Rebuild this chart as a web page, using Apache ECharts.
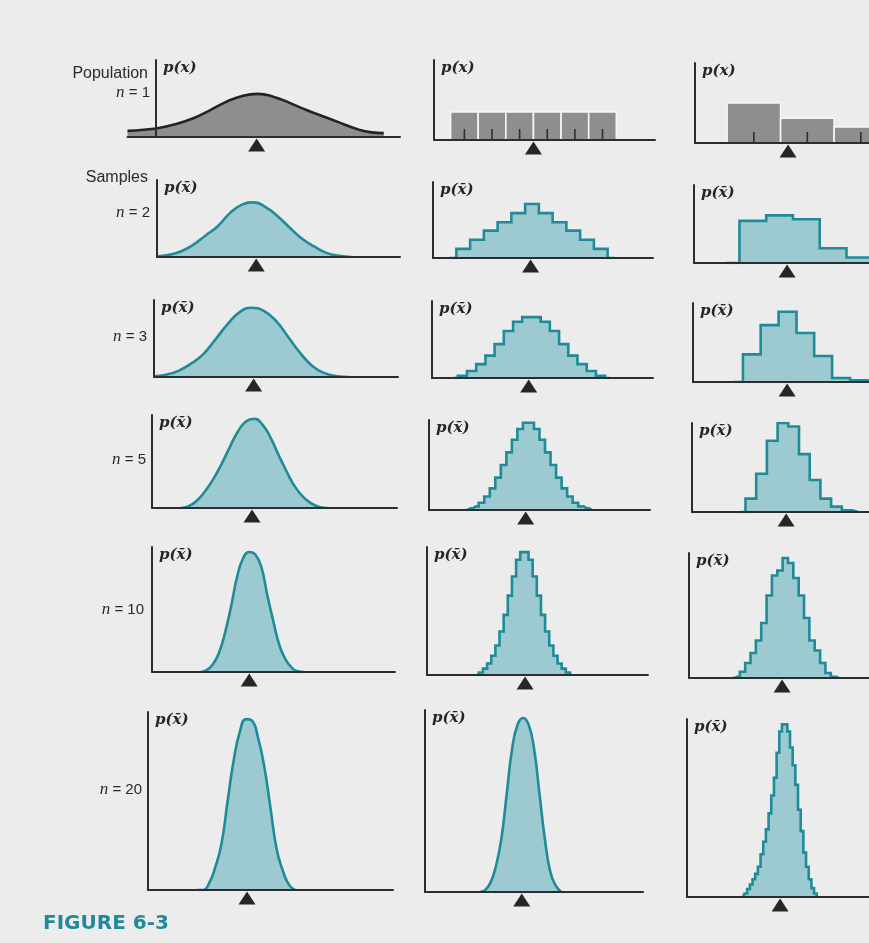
<!DOCTYPE html>
<html>
<head>
<meta charset="utf-8">
<script src="https://cdn.jsdelivr.net/npm/echarts@6.0.0/dist/echarts.min.js"></script>
<style>
  html, body { margin: 0; padding: 0; background: #ececec; }
  #chart { width: 869px; height: 943px; }
</style>
</head>
<body>
<div id="chart"></div>
<script>
// ---------- Sample sizes (rows) ----------
const rowLabels = ['n = 1', 'n = 2', 'n = 3', 'n = 5', 'n = 10', 'n = 20'];

// ---------- Column A: bell-shaped population (x on a 0–120 scale) ----------
// heights are relative to each panel's y-axis length
const bellX1 = [-14, -6, 2, 10, 18, 26, 34, 42, 50, 58, 66, 74, 82, 90, 98, 106, 112];
const bellY1 = [0.08, 0.095, 0.12, 0.17, 0.24, 0.34, 0.45, 0.53, 0.56, 0.52, 0.44, 0.35, 0.27, 0.19, 0.11, 0.06, 0.05];
const bellX2 = [0, 6, 12, 18, 24, 30, 36, 42, 48, 54, 60, 66, 72, 78, 84, 90, 96];
const bellY2 = [0.01, 0.03, 0.075, 0.16, 0.28, 0.40, 0.57, 0.68, 0.71, 0.64, 0.52, 0.37, 0.23, 0.13, 0.05, 0.015, 0];
const bellX3 = [0, 6, 12, 18, 24, 30, 36, 42, 48, 54, 60, 66, 72, 78, 84, 90, 96];
const bellY3 = [0.01, 0.03, 0.08, 0.17, 0.29, 0.48, 0.68, 0.84, 0.90, 0.86, 0.73, 0.52, 0.31, 0.14, 0.05, 0.01, 0];
const bellX5 = [14, 18, 22, 26, 30, 34, 38, 42, 46, 50, 54, 58, 62, 66, 70, 74, 78, 82, 86];
const bellY5 = [0, 0.02, 0.08, 0.18, 0.31, 0.47, 0.65, 0.82, 0.93, 0.96, 0.90, 0.76, 0.57, 0.39, 0.23, 0.12, 0.05, 0.01, 0];
const bellX10 = [24, 27, 30, 33, 36, 39, 42, 45, 48, 51, 54, 57, 60, 63, 66, 69, 72, 75];
const bellY10 = [0, 0.015, 0.06, 0.15, 0.31, 0.52, 0.76, 0.91, 0.96, 0.94, 0.84, 0.61, 0.40, 0.21, 0.10, 0.035, 0.005, 0];
const bellX20 = [24, 27, 30, 33, 36, 39, 42, 45, 48, 51, 54, 57, 60, 63, 66, 69, 72];
const bellY20 = [0, 0.0, 0.04, 0.13, 0.26, 0.50, 0.73, 0.89, 0.96, 0.95, 0.85, 0.69, 0.46, 0.23, 0.11, 0.03, 0];
const bellMeans = [49.5, 49, 49, 49, 48, 48.5];

// ---------- Column B: uniform population on 1..6 ----------
const uniPopX = [1, 2, 3, 4, 5, 6];
const uniPopY = [0.35, 0.35, 0.35, 0.35, 0.35, 0.35];
const uniX2 = [1, 1.5, 2, 2.5, 3, 3.5, 4, 4.5, 5, 5.5, 6];
const uniY2 = [0.12, 0.24, 0.36, 0.47, 0.59, 0.71, 0.59, 0.47, 0.36, 0.24, 0.12];
const uniX3 = [1, 1.33, 1.67, 2, 2.33, 2.67, 3, 3.33, 3.67, 4, 4.33, 4.67, 5, 5.33, 5.67, 6];
const uniY3 = [0.03, 0.09, 0.18, 0.29, 0.44, 0.61, 0.73, 0.79, 0.79, 0.73, 0.61, 0.44, 0.29, 0.18, 0.09, 0.03];
const uniX5 = [1.4, 1.6, 1.8, 2, 2.2, 2.4, 2.6, 2.8, 3, 3.2, 3.4, 3.6, 3.8, 4, 4.2, 4.4, 4.6, 4.8, 5, 5.2, 5.4, 5.6];
const uniY5 = [0.02, 0.04, 0.08, 0.15, 0.24, 0.36, 0.50, 0.64, 0.78, 0.90, 0.97, 0.97, 0.90, 0.78, 0.64, 0.50, 0.36, 0.24, 0.15, 0.08, 0.04, 0.02];
const uniX10 = [1.85, 2.0, 2.15, 2.3, 2.45, 2.6, 2.75, 2.9, 3.05, 3.2, 3.35, 3.5, 3.65, 3.8, 3.95, 4.1, 4.25, 4.4, 4.55, 4.7, 4.85, 5.0];
const uniY10 = [0.02, 0.05, 0.09, 0.15, 0.23, 0.34, 0.47, 0.62, 0.77, 0.90, 0.96, 0.96, 0.90, 0.77, 0.62, 0.47, 0.34, 0.23, 0.15, 0.09, 0.05, 0.02];
const uniX20 = [1.9, 2.1, 2.3, 2.5, 2.7, 2.9, 3.1, 3.3, 3.5, 3.7, 3.9, 4.1, 4.3, 4.5, 4.7, 4.9];
const uniY20 = [0, 0.01, 0.05, 0.14, 0.29, 0.54, 0.79, 0.92, 0.956, 0.92, 0.79, 0.54, 0.29, 0.11, 0.035, 0];
const uniMeans = [3.5, 3.45, 3.4, 3.4, 3.45, 3.45];

// ---------- Column C: skewed population on 0, 1, 2 ----------
const skewPopX = [0, 1, 2];
const skewPopY = [0.50, 0.31, 0.20];
const skewX2 = [0, 0.5, 1, 1.5, 2];
const skewY2 = [0.54, 0.61, 0.56, 0.19, 0.07];
const skewX3 = [0, 0.33, 0.67, 1, 1.33, 1.67, 2];
const skewY3 = [0.35, 0.72, 0.89, 0.62, 0.33, 0.05, 0.02];
const skewX5 = [0, 0.2, 0.4, 0.6, 0.8, 1.0, 1.2, 1.4, 1.6, 1.8];
const skewY5 = [0.15, 0.43, 0.80, 1.0, 0.96, 0.65, 0.36, 0.15, 0.06, 0.02];
const skewX10 = [-0.2, -0.1, 0, 0.1, 0.2, 0.3, 0.4, 0.5, 0.6, 0.7, 0.8, 0.9, 1.0, 1.1, 1.2, 1.3, 1.4, 1.5, 1.6];
const skewY10 = [0.01, 0.05, 0.12, 0.20, 0.30, 0.44, 0.66, 0.82, 0.86, 0.96, 0.92, 0.80, 0.66, 0.48, 0.30, 0.22, 0.12, 0.04, 0.01];
const skewX20 = [0, 0.05, 0.1, 0.15, 0.2, 0.25, 0.3, 0.35, 0.4, 0.45, 0.5, 0.55, 0.6, 0.65, 0.7, 0.75, 0.8, 0.85, 0.9, 0.95, 1.0, 1.05, 1.1, 1.15, 1.2, 1.25, 1.3];
const skewY20 = [0.02, 0.045, 0.07, 0.10, 0.13, 0.17, 0.24, 0.31, 0.38, 0.47, 0.57, 0.67, 0.81, 0.93, 0.97, 0.97, 0.93, 0.84, 0.74, 0.63, 0.49, 0.37, 0.25, 0.17, 0.10, 0.05, 0.02];
const skewMeans = [0.64, 0.64, 0.66, 0.66, 0.64, 0.64];

// ---------- Panel placement (pixels) ----------
const CANVAS_W = 869;
const layoutA = { ya: [156, 157, 154, 152, 152, 148], right: [400, 400, 398, 397, 395, 393],
                  top: [60, 180, 300, 415, 547, 712], base: [137, 257, 377, 508, 672, 890] };
const layoutB = { ya: [434, 433, 432, 429, 427, 425], right: [655, 653, 653, 650, 648, 643],
                  top: [60, 182, 301, 420, 547, 710], base: [140, 258, 378, 510, 675, 892] };
const layoutC = { ya: [695, 694, 693, 692, 689, 687], pxPerUnit: 53.5,
                  top: [63, 185, 303, 423, 553, 719], base: [143, 263, 382, 512, 678, 897] };
const labelY = [93, 213, 337, 460, 610, 790];
const labelRight = [150, 150, 147, 146, 144, 142];

// ---------- Styles ----------
const BG = '#ececec';
const AXIS = '#2d2d2f';
const GREY = '#8e8e91';
const TEAL = '#1f8b99';
const TEAL_FILL = '#9dc9d0';
const DARK = '#262628';

const grids = [], xAxes = [], yAxes = [], series = [], graphics = [];

function addPanel(cfg) {
  const i = grids.length;
  const pxPerUnit = (cfg.right - cfg.ya) / (cfg.xmax - cfg.y0);
  const left = cfg.ya - (cfg.y0 - cfg.xmin) * pxPerUnit;
  grids.push({ left: left, top: cfg.top, width: cfg.right - left, height: cfg.base - cfg.top, containLabel: false });
  xAxes.push({
    type: 'value', gridIndex: i, min: cfg.xmin, max: cfg.xmax, z: 4,
    axisLine: { show: true, onZero: true, lineStyle: { color: AXIS, width: 2 } },
    axisTick: { show: false }, axisLabel: { show: false }, splitLine: { show: false }
  });
  yAxes.push({
    type: 'value', gridIndex: i, min: 0, max: 1, z: 4,
    axisLine: { show: true, onZero: cfg.y0 === 0 && cfg.xmin < 0, lineStyle: { color: AXIS, width: 2 } },
    axisTick: { show: false }, axisLabel: { show: false }, splitLine: { show: false }
  });
  // p(x) / p(x̄) label next to the y axis
  graphics.push({
    type: 'text', x: cfg.ya + 7, y: cfg.top + 8, z: 10,
    style: { text: cfg.pLabel, font: 'italic bold 15px "DejaVu Serif", serif', fill: '#262628',
             textAlign: 'left', textVerticalAlign: 'middle', align: 'left', verticalAlign: 'middle' }
  });
  // marker at the mean
  series.push({
    type: 'scatter', xAxisIndex: i, yAxisIndex: i, data: [[cfg.mean, 0]],
    symbol: 'triangle', symbolSize: [17, 13], symbolOffset: [0, 8],
    itemStyle: { color: DARK, opacity: 1 }, clip: false, silent: true, z: 6
  });
  return i;
}

function curveSeries(i, xs, ys, stroke, fill) {
  series.push({
    type: 'line', xAxisIndex: i, yAxisIndex: i, smooth: 0.5,
    symbol: 'none', data: xs.map((x, k) => [x, ys[k]]),
    lineStyle: { color: stroke, width: 2.6 }, areaStyle: { color: fill, opacity: 1 }, z: 2, silent: true
  });
}

function stepSeries(i, xs, ys, width) {
  const pts = [[xs[0] - width, 0]].concat(xs.map((x, k) => [x, ys[k]])).concat([[xs[xs.length - 1] + width, 0]]);
  series.push({
    type: 'line', xAxisIndex: i, yAxisIndex: i, step: 'middle', symbol: 'none', data: pts,
    lineStyle: { color: TEAL, width: 2.6, join: 'miter' }, areaStyle: { color: TEAL_FILL, opacity: 1 }, z: 2, silent: true
  });
}

function barSeries(i, xs, ys, width) {
  series.push({
    type: 'custom', xAxisIndex: i, yAxisIndex: i, data: xs.map((x, k) => [x, ys[k]]), z: 2, silent: true,
    renderItem: function (params, api) {
      const x = api.value(0), y = api.value(1);
      const a = api.coord([x - width / 2, y]);
      const b = api.coord([x + width / 2, 0]);
      const c = api.coord([x, 0]);
      return {
        type: 'group', children: [
          { type: 'rect', shape: { x: a[0], y: a[1], width: b[0] - a[0], height: b[1] - a[1] },
            style: { fill: GREY, stroke: '#f6f6f6', lineWidth: 1.6 } },
          { type: 'line', shape: { x1: c[0], y1: c[1], x2: c[0], y2: c[1] - 11 },
            style: { stroke: '#2e2e2e', lineWidth: 1.6 } }
        ]
      };
    }
  });
}

// ---------- Column A panels ----------
const bellData = [[bellX1, bellY1], [bellX2, bellY2], [bellX3, bellY3], [bellX5, bellY5], [bellX10, bellY10], [bellX20, bellY20]];
bellData.forEach((d, r) => {
  const i = addPanel({ ya: layoutA.ya[r], right: layoutA.right[r], top: layoutA.top[r], base: layoutA.base[r],
    y0: 0, xmin: r === 0 ? -14 : 0, xmax: 120, mean: bellMeans[r], pLabel: r === 0 ? 'p(x)' : 'p(x\u0304)' });
  if (r === 0) curveSeries(i, d[0], d[1], '#232325', GREY);
  else curveSeries(i, d[0], d[1], TEAL, TEAL_FILL);
});

// ---------- Column B panels ----------
const uniSteps = [[uniX2, uniY2, 0.5], [uniX3, uniY3, 0.3333], [uniX5, uniY5, 0.2], [uniX10, uniY10, 0.15]];
for (let r = 0; r < 6; r++) {
  const i = addPanel({ ya: layoutB.ya[r], right: layoutB.right[r], top: layoutB.top[r], base: layoutB.base[r],
    y0: -0.1, xmin: -0.1, xmax: 7.9, mean: uniMeans[r], pLabel: r === 0 ? 'p(x)' : 'p(x\u0304)' });
  if (r === 0) barSeries(i, uniPopX, uniPopY, 1);
  else if (r === 5) curveSeries(i, uniX20, uniY20, TEAL, TEAL_FILL);
  else stepSeries(i, uniSteps[r - 1][0], uniSteps[r - 1][1], uniSteps[r - 1][2]);
}

// ---------- Column C panels (axis runs off the right edge of the page) ----------
const skewSteps = [[skewX2, skewY2, 0.5], [skewX3, skewY3, 0.3333], [skewX5, skewY5, 0.2], [skewX10, skewY10, 0.1], [skewX20, skewY20, 0.05]];
for (let r = 0; r < 6; r++) {
  const ya = layoutC.ya[r];
  const xmin = -1.1;
  const xmax = xmin + (CANVAS_W - ya) / layoutC.pxPerUnit;
  const i = addPanel({ ya: ya, right: CANVAS_W, top: layoutC.top[r], base: layoutC.base[r],
    y0: xmin, xmin: xmin, xmax: xmax, mean: skewMeans[r], pLabel: r === 0 ? 'p(x)' : 'p(x\u0304)' });
  if (r === 0) barSeries(i, skewPopX, skewPopY, 1);
  else stepSeries(i, skewSteps[r - 1][0], skewSteps[r - 1][1], skewSteps[r - 1][2]);
}

// ---------- Row labels ----------
const sans = '"Liberation Sans", Arial, sans-serif';
function label(text, x, y, size) {
  graphics.push({
    type: 'text', x: x, y: y, z: 10,
    style: { text: text, font: size + 'px ' + sans, fill: '#2a2a2c',
             rich: { i: { fontStyle: 'italic', fontFamily: '"Liberation Serif", serif', fontSize: size + 2, fill: '#2a2a2c' } },
             textAlign: 'right', textVerticalAlign: 'middle', align: 'right', verticalAlign: 'middle' }
  });
}
label('Population', 148, 74, 16);
label('Samples', 148, 178, 16);
rowLabels.forEach((t, r) => {
  label(t.replace('n', '{i|n}'), labelRight[r], labelY[r], 15);
});

graphics.push({
  type: 'text', x: 43, y: 924, z: 10,
  style: { text: 'FIGURE 6-3', font: 'bold 20px "DejaVu Sans", sans-serif', fill: '#1f8a9c',
           textAlign: 'left', textVerticalAlign: 'middle', align: 'left', verticalAlign: 'middle' }
});

const chart = echarts.init(document.getElementById('chart'), null, { renderer: 'canvas' });
chart.setOption({
  backgroundColor: BG,
  animation: false,
  grid: grids, xAxis: xAxes, yAxis: yAxes, series: series,
  graphic: { elements: graphics }
});
</script>
</body>
</html>
